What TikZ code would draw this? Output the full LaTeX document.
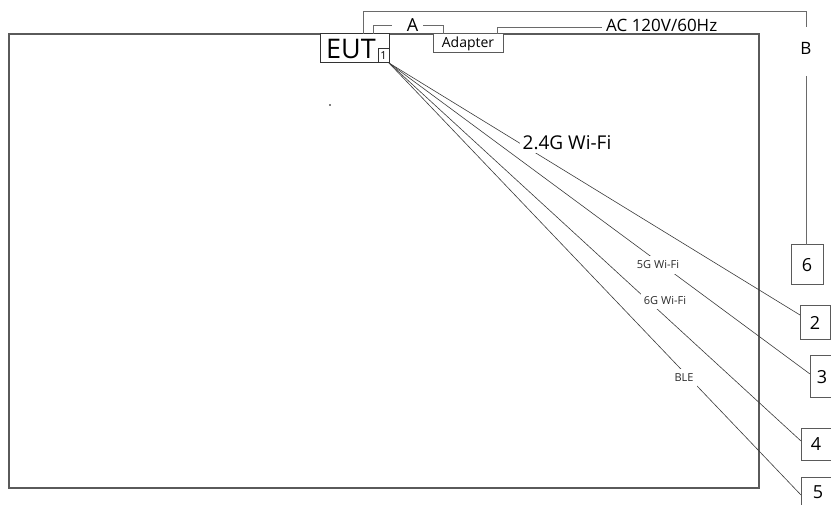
\documentclass[tikz,border=0pt]{standalone}
\usepackage{fontspec}
\setmainfont{Open Sans}
\definecolor{boxgray}{HTML}{5A5A5A}
\definecolor{linegray}{HTML}{6A6A6A}
\definecolor{diaggray}{HTML}{3A3A3A}
\definecolor{txtgray}{HTML}{2A2A2A}
\begin{document}
\begin{tikzpicture}[x=1pt,y=-1pt,
  roombox/.style={draw=boxgray, line width=1.3pt, inner sep=0pt, outer sep=0pt},
  eutbox/.style={draw=black!80, line width=1pt, inner sep=0pt, outer sep=0pt},
  numbox/.style={draw=boxgray, line width=1pt, inner sep=0pt, outer sep=0pt, font=\fontsize{18}{20}\selectfont},
  conn/.style={draw=linegray, line width=1pt},
  diag/.style={draw=diaggray, line width=0.6pt},
  biglabel/.style={inner sep=1pt, font=\fontsize{17}{20}\selectfont},
  smalllabel/.style={fill=white, inner xsep=3pt, inner ysep=5pt, text=txtgray, font=\fontsize{11}{13}\selectfont}
]
\useasboundingbox (0,0) rectangle (831,505);

% room / table
\node[roombox, minimum width=750pt, minimum height=454pt] (room) at (384,261) {};

% EUT and its port
\node[eutbox, fill=white, minimum width=69pt, minimum height=29pt] (eut) at (354.5,48.5) {};
\node[inner sep=0pt, font=\fontsize{27}{29}\selectfont] (euttext) at (351,48.5) {EUT};
\node[eutbox, minimum width=11pt, minimum height=14pt, font=\fontsize{11}{12}\selectfont] (one) at (383.5,56) {1};

% adapter
\node[draw=boxgray, line width=1pt, fill=white, inner sep=0pt, outer sep=0pt,
      minimum width=70pt, minimum height=19pt, font=\fontsize{14}{16}\selectfont] (adapter) at (468,43.5) {Adapter};

% numbered boxes
\node[numbox, minimum width=32pt, minimum height=40pt] (b6) at (807,265) {6};
\node[numbox, minimum width=30pt, minimum height=34pt] (b2) at (815,323) {2};
\node[numbox, minimum width=24pt, minimum height=42pt] (b3) at (822,377) {3};
\node[numbox, minimum width=30pt, minimum height=32pt] (b4) at (816,444) {4};
\node[numbox, minimum width=34pt, minimum height=30pt] (b5) at (818,492) {5};

% connector A (EUT - adapter)
\coordinate (Aleft) at (373,26);
\coordinate (Aright) at (443,26);
\draw[conn] (eut.north -| Aleft) -- (Aleft) -- (392,26);
\draw[conn] (423,26) -- (Aright) -- (adapter.north -| Aright);
\node[biglabel, font=\fontsize{18}{20}\selectfont] (Alab) at (412.5,25) {A};

% connector B (EUT - box 6)
\coordinate (Bleft) at (363,12);
\coordinate (Bright) at (806,12);
\coordinate (Bgap1) at (806,27);
\coordinate (Bgap2) at (806,76);
\draw[conn] (eut.north -| Bleft) -- (Bleft) -- (Bright) -- (Bgap1);
\draw[conn] (Bgap2) -- (b6.north -| Bgap2);
\node[biglabel] (Blab) at (806,48) {B};

% AC mains
\coordinate (ACx) at (497,28);
\node[anchor=west, inner xsep=4pt, inner ysep=1pt, font=\fontsize{17}{19}\selectfont] (aclab) at (602,25.5) {AC 120V/60Hz};
\draw[conn] (adapter.north -| ACx) -- (ACx) -- (aclab.west |- ACx);

% radiated links
\draw[diag] (one.south east) -- ([yshift=8pt]b2.west);
\draw[diag] (one.south east) -- ([yshift=3pt]b3.west);
\draw[diag] (one.south east) -- ([yshift=3pt]b4.west);
\draw[diag] (one.south east) -- ([yshift=-3pt]b5.west);

\node[fill=white, inner xsep=3pt, inner ysep=3pt, font=\fontsize{19}{22}\selectfont] (wifi24) at (567,143) {2.4G Wi-Fi};
\node[smalllabel] (wifi5) at (658,265) {5G Wi-Fi};
\node[smalllabel, inner ysep=4pt] (wifi6) at (665,301) {6G Wi-Fi};
\node[smalllabel, inner xsep=4pt] (ble) at (684,378) {BLE};

% small speck
\fill[gray] (329,104) rectangle (331,106);
\end{tikzpicture}
\end{document}
